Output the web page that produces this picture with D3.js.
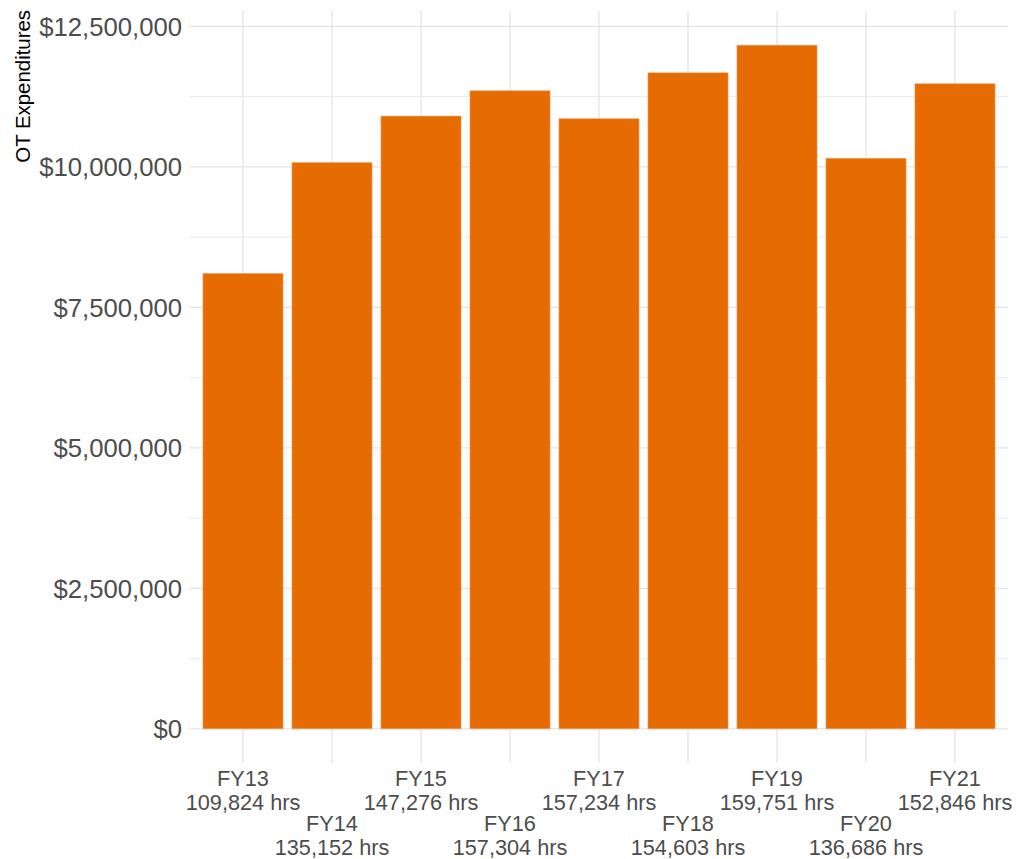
<!DOCTYPE html>
<html>
<head>
<meta charset="utf-8">
<script src="https://cdn.jsdelivr.net/npm/d3@7"></script>
<style>
  html, body { margin: 0; padding: 0; background: #ffffff; }
  svg { display: block; font-family: "Liberation Sans", Arial, sans-serif; }
</style>
</head>
<body>
<svg id="chart" width="1016" height="859"></svg>
<script>
// Fiscal years, overtime spending and overtime hours
const fiscalYears = ["FY13", "FY14", "FY15", "FY16", "FY17", "FY18", "FY19", "FY20", "FY21"];
const otExpenditures = [8103000, 10075000, 10904000, 11354000, 10856000, 11673000, 12165000, 10153000, 11478000];
const otHours = ["109,824", "135,152", "147,276", "157,304", "157,234", "154,603", "159,751", "136,686", "152,846"];
const yTicks = [0, 2500000, 5000000, 7500000, 10000000, 12500000];
const yMinorTicks = [1250000, 3750000, 6250000, 8750000, 11250000];

const svg = d3.select("#chart");

// Panel area
const panel = { left: 189.6, right: 1008.4, top: 11, bottom: 763 };

// Value axis padded by 5% of the data range on both ends
const maxVal = d3.max(otExpenditures);
const pad = maxVal * 0.05;
const y = d3.scaleLinear()
  .domain([-pad, maxVal + pad])
  .range([panel.bottom, panel.top]);

const x = d3.scaleBand()
  .domain(fiscalYears)
  .range([panel.left, panel.right])
  .paddingInner(0.1)
  .paddingOuter(0.15);

const grid = svg.append("g").attr("class", "grid");

// Minor horizontal gridlines
grid.selectAll("line.minor")
  .data(yMinorTicks)
  .join("line")
  .attr("class", "minor")
  .attr("x1", panel.left).attr("x2", panel.right)
  .attr("y1", d => y(d)).attr("y2", d => y(d))
  .attr("stroke", "#ededed")
  .attr("stroke-width", 1.2);

// Major horizontal gridlines
grid.selectAll("line.major")
  .data(yTicks)
  .join("line")
  .attr("class", "major")
  .attr("x1", panel.left).attr("x2", panel.right)
  .attr("y1", d => y(d)).attr("y2", d => y(d))
  .attr("stroke", "#e3e3e3")
  .attr("stroke-width", 1.3);

// Vertical gridlines at category centres
grid.selectAll("line.vert")
  .data(fiscalYears)
  .join("line")
  .attr("class", "vert")
  .attr("x1", d => x(d) + x.bandwidth() / 2)
  .attr("x2", d => x(d) + x.bandwidth() / 2)
  .attr("y1", panel.top).attr("y2", panel.bottom)
  .attr("stroke", "#e3e3e3")
  .attr("stroke-width", 1.3);

// Bars
svg.append("g")
  .selectAll("rect")
  .data(fiscalYears.map((fy, i) => ({ fy, v: otExpenditures[i] })))
  .join("rect")
  .attr("x", d => x(d.fy))
  .attr("width", x.bandwidth())
  .attr("y", d => y(d.v))
  .attr("height", d => y(0) - y(d.v))
  .attr("fill", "#e56b02")
  .attr("stroke", "#f0a466")
  .attr("stroke-width", 0.6);

// Y axis labels
const fmt = v => "$" + d3.format(",")(v);
svg.append("g")
  .selectAll("text")
  .data(yTicks)
  .join("text")
  .attr("x", 182)
  .attr("y", d => y(d))
  .attr("dy", "0.36em")
  .attr("text-anchor", "end")
  .attr("fill", "#4d4d4d")
  .attr("font-size", 25.7)
  .text(fmt);

// X axis labels, staggered on two rows
const xLab = svg.append("g")
  .selectAll("text")
  .data(fiscalYears.map((fy, i) => ({ fy, hrs: otHours[i], i })))
  .join("text")
  .attr("text-anchor", "middle")
  .attr("fill", "#4d4d4d")
  .attr("font-size", 21.7)
  .attr("transform", d => {
    const cx = x(d.fy) + x.bandwidth() / 2;
    const base = d.i % 2 === 0 ? 786 : 831;
    return `translate(${cx},${base})`;
  });
xLab.append("tspan").attr("x", 0).attr("y", 0).text(d => d.fy);
xLab.append("tspan").attr("x", 0).attr("y", 24).text(d => d.hrs + " hrs");

// Y axis title
svg.append("text")
  .attr("transform", `translate(30,${panel.top - 1}) rotate(-90)`)
  .attr("text-anchor", "end")
  .attr("fill", "#000000")
  .attr("font-size", 20.4)
  .text("OT Expenditures");
</script>
</body>
</html>
